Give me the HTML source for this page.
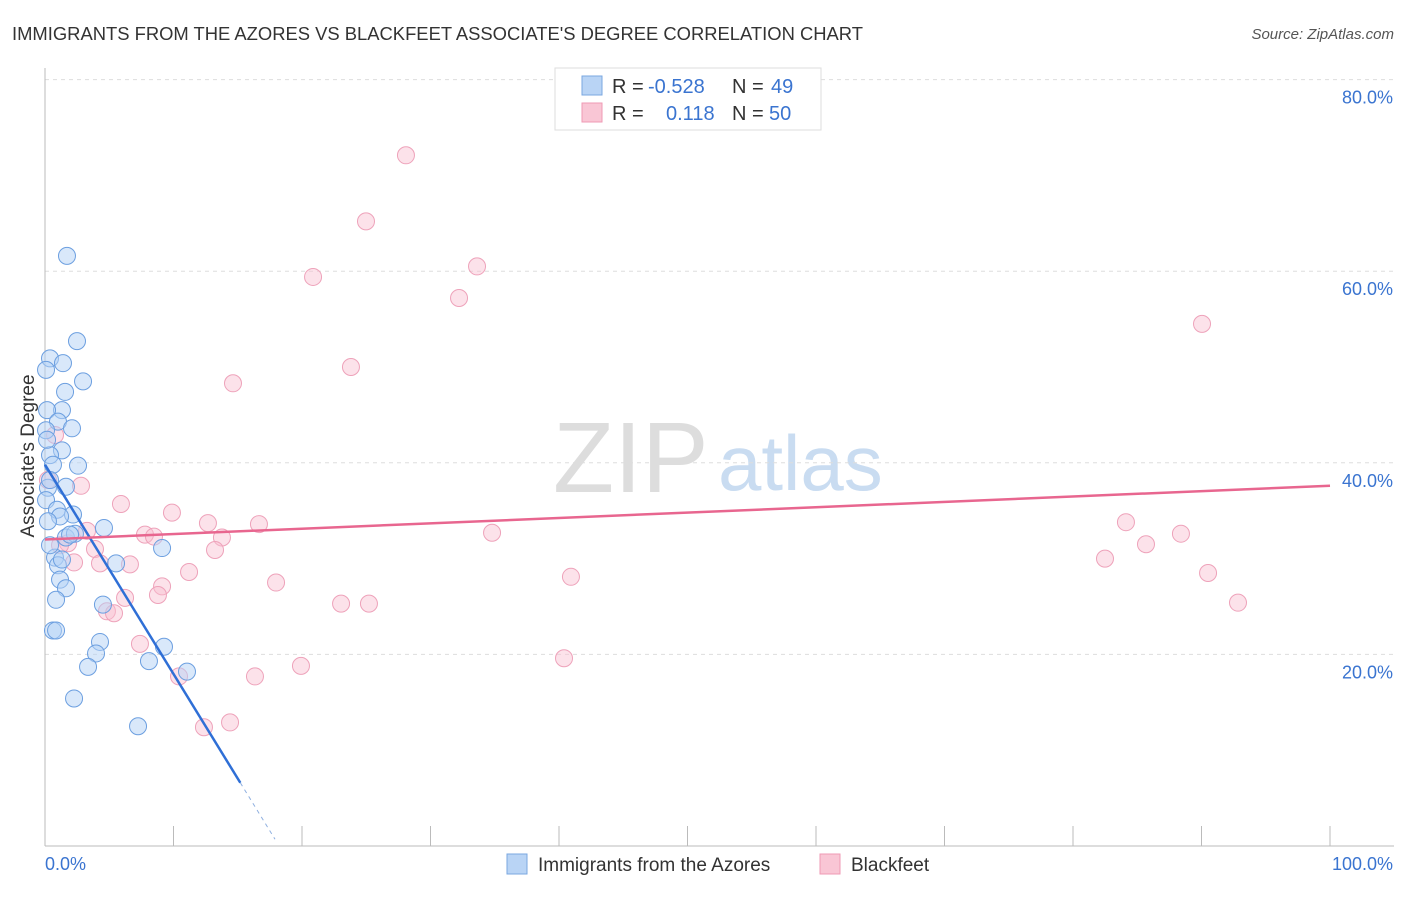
<!DOCTYPE html>
<html><head><meta charset="utf-8"><style>
body{margin:0;background:#fff;font-family:"Liberation Sans",sans-serif}
svg text{font-family:"Liberation Sans",sans-serif}
</style></head><body>
<svg id="c" width="1406" height="892" xmlns="http://www.w3.org/2000/svg">
<text x="12" y="40" font-size="18.4" fill="#333">IMMIGRANTS FROM THE AZORES VS BLACKFEET ASSOCIATE'S DEGREE CORRELATION CHART</text>
<text x="1394" y="39" font-size="15" fill="#555" text-anchor="end" font-style="italic">Source: ZipAtlas.com</text>
<text x="553" y="492" font-size="100" fill="#ddd" font-family="Liberation Serif">ZIP</text>
<text x="718" y="490" font-size="78" fill="#c9dcf1">atlas</text>
<text x="34" y="456" font-size="19" fill="#333" text-anchor="middle" transform="rotate(-90 34 456)">Associate's Degree</text>
<g id="grid"></g><g id="axes"></g><g id="marks"></g><g id="lines"></g>
<g>
<rect x="555" y="68" width="266" height="62" fill="#fff" stroke="#ddd"/>
<rect x="582" y="76" width="20" height="19" fill="#b9d4f5" stroke="#7aa7e0"/>
<rect x="582" y="103" width="20" height="19" fill="#f9c6d5" stroke="#ef9ab4"/>
<text x="612" y="93" font-size="20" fill="#333">R =</text><text x="648" y="93" font-size="20" fill="#3a74d0">-0.528</text>
<text x="732" y="93" font-size="20" fill="#333">N =</text><text x="771" y="93" font-size="20" fill="#3a74d0">49</text>
<text x="612" y="120" font-size="20" fill="#333">R =</text><text x="666" y="120" font-size="20" fill="#3a74d0">0.118</text>
<text x="732" y="120" font-size="20" fill="#333">N =</text><text x="769" y="120" font-size="20" fill="#3a74d0">50</text>
</g>
<g>
<rect x="507" y="854" width="20" height="20" fill="#b9d4f5" stroke="#7aa7e0"/>
<text x="538" y="871" font-size="19" fill="#333">Immigrants from the Azores</text>
<rect x="820" y="854" width="20" height="20" fill="#f9c6d5" stroke="#ef9ab4"/>
<text x="851" y="871" font-size="19" fill="#333">Blackfeet</text>
</g>
</svg>
<script>
const blueX=[1.71,2.49,0.39,1.40,0.08,2.96,1.56,1.32,0.16,1.01,2.10,0.08,1.32,0.39,2.57,0.62,0.23,1.63,0.08,0.93,2.18,1.17,0.23,4.59,1.63,2.33,0.78,1.01,1.32,1.17,1.63,9.11,5.53,4.51,0.62,0.86,4.28,3.97,9.26,8.09,3.35,11.05,2.26,7.24,0.39,0.16,0.39,1.95,0.86];
const blueY=[61.6,52.7,50.9,50.4,49.7,48.5,47.4,45.5,45.5,44.3,43.6,43.4,41.3,40.8,39.7,39.8,37.4,37.5,36.1,35.1,34.6,34.4,33.9,33.2,32.2,32.6,30.1,29.3,29.9,27.8,26.9,31.1,29.5,25.2,22.5,22.5,21.3,20.1,20.8,19.3,18.7,18.2,15.4,12.5,31.4,42.4,38.2,32.5,25.7];
const pinkX=[28.09,24.98,33.62,20.86,32.22,90.04,23.81,14.63,0.78,0.23,2.80,5.91,9.88,12.68,16.65,84.12,3.27,7.78,8.48,13.77,34.79,88.40,1.79,85.68,3.89,13.23,82.49,2.26,4.28,6.61,11.21,90.51,40.93,17.98,9.11,8.79,6.23,23.04,25.21,92.84,4.82,5.37,7.39,19.92,40.39,16.34,10.43,14.40,12.37,1.17];
const pinkY=[72.1,65.2,60.5,59.4,57.2,54.5,50.0,48.3,42.9,38.2,37.6,35.7,34.8,33.7,33.6,33.8,32.9,32.5,32.3,32.2,32.7,32.6,31.6,31.5,31.0,30.9,30.0,29.6,29.5,29.4,28.6,28.5,28.1,27.5,27.1,26.2,25.9,25.3,25.3,25.4,24.5,24.3,21.1,18.8,19.6,17.7,17.7,12.9,12.4,31.4];
const yTicks=[20,40,60,80];
const blueTrend=[39.8,6.6,15.2,17.9];
const pinkTrend=[32.0,37.6];
const X=v=>45+v*12.85, Y=v=>846-v*9.58;
const NS="http://www.w3.org/2000/svg";
function mk(t,a,p){const e=document.createElementNS(NS,t);for(const k in a)e.setAttribute(k,a[k]);document.getElementById(p).appendChild(e);return e;}
yTicks.forEach(t=>{
 const g=mk('line',{x1:45,x2:1394,y1:Y(t),y2:Y(t),stroke:'#ddd','stroke-dasharray':'4,4'},'grid');
 
 
 const l=mk('text',{x:1393,y:Y(t)+24,'font-size':18,fill:'#3a74d0','text-anchor':'end'},'grid');
 l.textContent=t.toFixed(1)+'%';
 
 
});
mk('line',{x1:45,x2:45,y1:68,y2:846,stroke:'#bbb'},'axes');
mk('line',{x1:45,x2:1394,y1:846,y2:846,stroke:'#bbb'},'axes');
for(let i=0;i<=10;i++){const t=mk('line',{x1:X(i*10),x2:X(i*10),y1:826,y2:846,stroke:'#bbb'},'axes');
 
 }
let a=mk('text',{x:45,y:870,'font-size':18,fill:'#3a74d0'},'axes');a.textContent='0.0%';


a=mk('text',{x:1393,y:870,'font-size':18,fill:'#3a74d0','text-anchor':'end'},'axes');a.textContent='100.0%';


pinkX.forEach((v,i)=>{const c=mk('circle',{cx:X(v),cy:Y(pinkY[i]),r:8.5,fill:'rgba(249,190,208,0.45)',stroke:'#eea2ba','stroke-width':1},'marks');
 
 });
blueX.forEach((v,i)=>{const c=mk('circle',{cx:X(v),cy:Y(blueY[i]),r:8.5,fill:'rgba(180,210,245,0.5)',stroke:'#6c9fe0','stroke-width':1},'marks');
 
 });
const bs=(blueTrend[1]-blueTrend[0])/blueTrend[2];
let l1=mk('line',{x1:X(0),y1:Y(blueTrend[0]),x2:X(blueTrend[2]),y2:Y(blueTrend[1]),stroke:'#2f6fd6','stroke-width':2.5},'lines');


let l2=mk('line',{x1:X(blueTrend[2]),y1:Y(blueTrend[1]),x2:X(blueTrend[3]),y2:Y(blueTrend[0]+bs*blueTrend[3]),stroke:'#8fb0e0','stroke-width':1,'stroke-dasharray':'4,4'},'lines');


let l3=mk('line',{x1:X(0),y1:Y(pinkTrend[0]),x2:X(100),y2:Y(pinkTrend[1]),stroke:'#e8668f','stroke-width':2.5},'lines');


</script>
</body></html>
